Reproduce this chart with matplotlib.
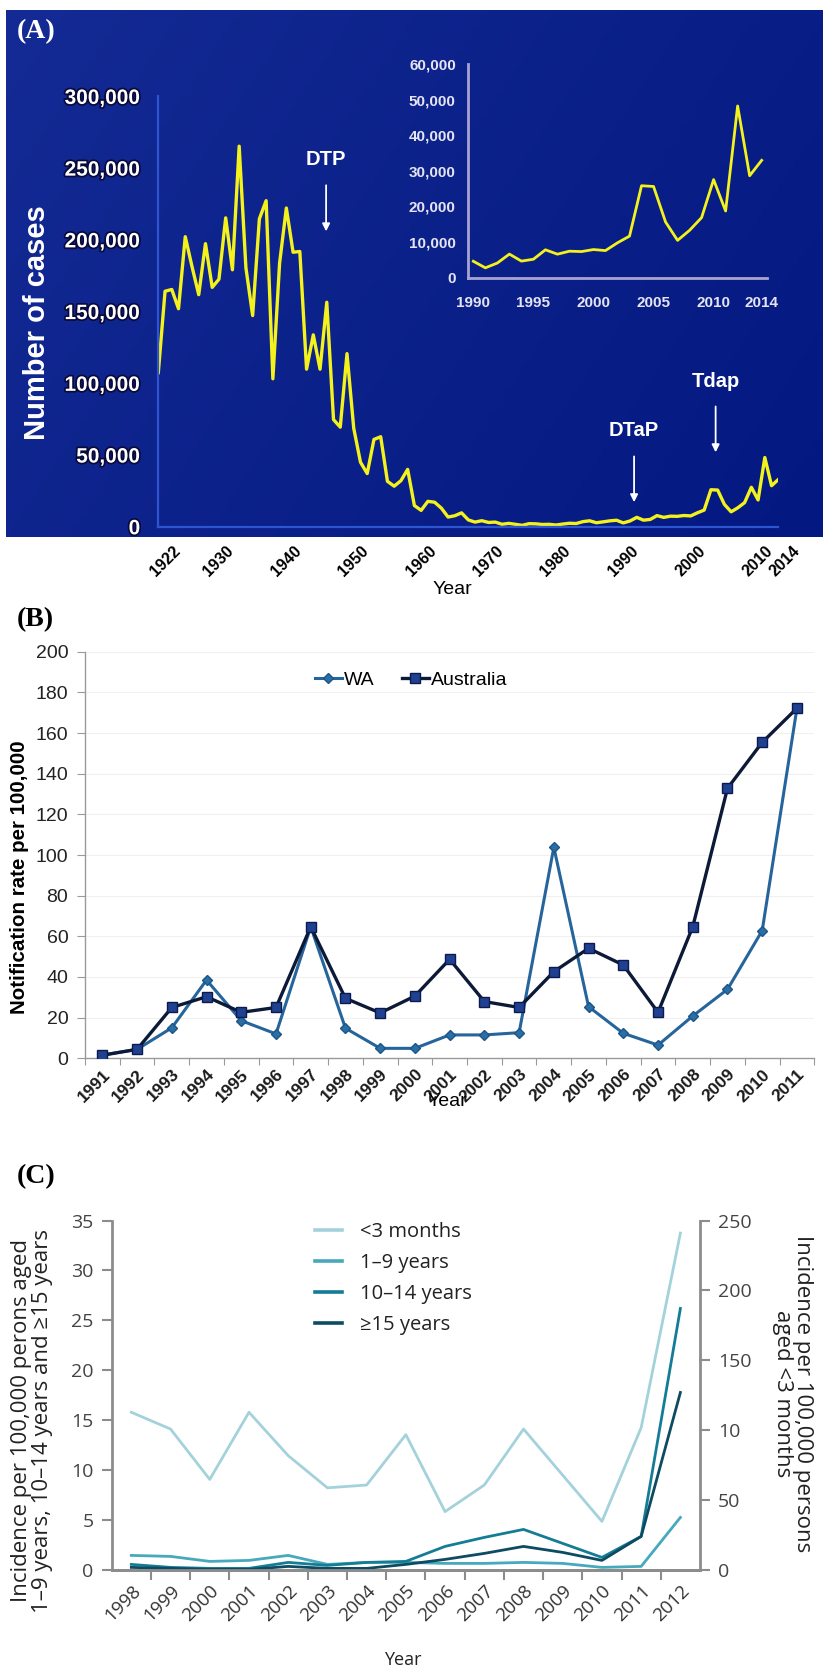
import numpy as np
import matplotlib.pyplot as plt
import matplotlib.patheffects as pe
import matplotlib.transforms as mtransforms
from matplotlib.lines import Line2D

# ---------- data ----------
# (A) reported cases, 1922-2014
years_a = list(range(1922, 2015))
cases_a = [107473, 164191, 165418, 152003, 202210, 181411, 161799, 197371, 166914, 172559,
           215343, 179135, 265269, 180518, 147237, 214652, 227319, 103188, 183866, 222202,
           191383, 191890, 109873, 133792, 109860, 156517, 74715, 69479, 120718, 68687,
           45030, 37129, 60886, 62786, 31732, 28295, 32148, 40005, 14809, 11468,
           17749, 17135, 13005, 6799, 7717, 9718, 4810, 3285, 4249, 3036,
           3287, 1759, 2402, 1738, 1010, 2177, 2063, 1623, 1730, 1248,
           1895, 2463, 2276, 3589, 4195, 2823, 3450, 4157, 4570, 2719,
           4083, 6586, 4617, 5137, 7796, 6564, 7405, 7298, 7867, 7580,
           9771, 11647, 25827, 25616, 15632, 10454, 13278, 16858, 27550, 18719,
           48277, 28639, 32971]
xticks_a = [1922, 1930, 1940, 1950, 1960, 1970, 1980, 1990, 2000, 2010, 2014]
yticks_a = [0, 50000, 100000, 150000, 200000, 250000, 300000]
inset_start = 1990
xticks_inset = [1990, 1995, 2000, 2005, 2010, 2014]
yticks_inset = [0, 10000, 20000, 30000, 40000, 50000, 60000]
vaccines = ["DTP", "DTaP", "Tdap"]

# (B) notification rate per 100,000
years_b = [str(y) for y in range(1991, 2012)]
wa = [1.6, 4.4, 15, 38.5, 18.5, 12, 64.7, 14.8, 4.9, 4.9, 11.5, 11.5, 12.6, 103.8,
      25.4, 12.3, 6.5, 20.8, 33.9, 62.8, 172.2]
aus = [1.5, 4.4, 25, 30.3, 22.6, 25, 64.7, 29.5, 22.3, 30.6, 48.7, 27.9, 25, 42.6,
       54.1, 45.9, 22.6, 64.7, 132.8, 155.4, 172.2]

# (C) incidence per 100,000
years_c = [str(y) for y in range(1998, 2013)]
under3m = [113, 101, 65, 113, 82, 59, 61, 97, 42, 61, 101, 68, 35, 102, 241]  # right axis
age1_9 = [1.5, 1.4, 0.9, 1.0, 1.5, 0.6, 0.8, 0.8, 0.7, 0.7, 0.8, 0.7, 0.3, 0.4, 5.3]
age10_14 = [0.6, 0.3, 0.2, 0.2, 0.8, 0.5, 0.8, 0.9, 2.4, 3.3, 4.1, 2.7, 1.3, 3.4, 26.2]
age15p = [0.3, 0.2, 0.1, 0.1, 0.4, 0.2, 0.2, 0.6, 1.1, 1.7, 2.4, 1.8, 1.0, 3.4, 17.8]
yticks_c_right = [0, 50, 100, 150, 200, 250]
ytick_labels_c_right = ["0", "50", "10", "150", "200", "250"]

# ---------- figure ----------
W, H = 823, 1670
fig = plt.figure(figsize=(W / 100, H / 100), dpi=100)
fig.patch.set_facecolor("white")


def px_axes(l, t, r, b, **kw):
    return fig.add_axes([l / W, 1 - b / H, (r - l) / W, (b - t) / H], **kw)


SANS = ["Liberation Sans", "DejaVu Sans"]
OPEN = ["Open Sans", "DejaVu Sans"]
SERIF = ["Liberation Serif", "DejaVu Serif"]

# ===== Panel A =====
bg = px_axes(6, 10, 823, 537.5)
bg.set_zorder(-5)
gx, gy = np.meshgrid(np.linspace(0, 1, 200), np.linspace(0, 1, 130))
d = np.clip(0.7 * gx + 0.3 * gy, 0, 1)[..., None]
c1 = np.array([20, 42, 148]) / 255
c2 = np.array([3, 24, 128]) / 255
bg.imshow(c1 * (1 - d) + c2 * d, aspect="auto", extent=(0, 1, 0, 1))
bg.axis("off")

axA = px_axes(158.3, 96.4, 778.3, 526.8)
axA.patch.set_alpha(0)
axA.plot(years_a, cases_a, color="#f4f21c", lw=2.4, solid_joinstyle="round")
axA.set_xlim(1922, 2014)
axA.set_ylim(0, 300000)
for s in ["top", "right"]:
    axA.spines[s].set_visible(False)
for s in ["left", "bottom"]:
    axA.spines[s].set_color("#2d55cf")
    axA.spines[s].set_linewidth(1.6)
axA.set_yticks(yticks_a)
axA.set_yticklabels([f"{v:,}" for v in yticks_a], color="white", fontweight="bold",
                    fontsize=15, family=SANS,
                    path_effects=[pe.withStroke(linewidth=2.5, foreground="#0a0a3a")])
axA.tick_params(axis="y", length=0, pad=13)
axA.set_xticks(xticks_a)
axA.set_xticklabels([str(v) for v in xticks_a], rotation=45, ha="right",
                    rotation_mode="anchor", fontsize=11.5, fontweight="bold", family=SANS)
axA.tick_params(axis="x", length=0, pad=12)
shift = mtransforms.ScaledTranslation(14 / 100, 0, fig.dpi_scale_trans)
for lab in axA.get_xticklabels():
    lab.set_transform(lab.get_transform() + shift)

arrow_kw = dict(arrowstyle="-|>", color="white", lw=1.3, mutation_scale=11)
vacc_pos = [(1946.9, 256000, 240000, 204000),
            (1992.6, 67400, 51000, 15200),
            (2004.7, 101500, 85800, 50000)]
for name, (xv, yt, y0, y1) in zip(vaccines, vacc_pos):
    axA.annotate("", xy=(xv, y1), xytext=(xv, y0), arrowprops=arrow_kw)
    axA.text(xv, yt, name, color="white", fontweight="bold", fontsize=14.5,
             family=SANS, ha="center", va="center")

fig.text(37 / W, 1 - 323 / H, "Number of cases", rotation=90, color="white",
         fontweight="bold", fontsize=21, family=SANS, ha="center", va="center")
fig.text(17 / W, 1 - 32 / H, "(A)", color="white", fontweight="bold", fontsize=20,
         family=SERIF, ha="left", va="center")
fig.text(452 / W, 1 - 589 / H, "Year", fontsize=14, family=SANS, ha="center", va="center")

# inset
axI = px_axes(468.3, 64.3, 766.7, 277.5)
axI.patch.set_alpha(0)
i0 = years_a.index(inset_start)
axI.plot(years_a[i0:], cases_a[i0:], color="#f4f21c", lw=2.0)
axI.set_xlim(1989.58, 2014.42)
axI.set_ylim(0, 60000)
for s in ["top", "right"]:
    axI.spines[s].set_visible(False)
for s in ["left", "bottom"]:
    axI.spines[s].set_color("#a9a4cf")
    axI.spines[s].set_linewidth(2)
axI.set_yticks(yticks_inset)
axI.set_yticklabels([f"{v:,}" for v in yticks_inset], fontsize=11, color="#e4e4f2",
                    family=SANS, fontweight="bold")
axI.set_xticks(xticks_inset)
axI.set_xticklabels([str(v) for v in xticks_inset], fontsize=11, color="#e4e4f2",
                    family=SANS, fontweight="bold")
axI.tick_params(axis="y", length=0, pad=9)
axI.tick_params(axis="x", length=0, pad=13)

# ===== Panel B =====
axB = px_axes(85, 651.7, 814.3, 1058.3)
xb = np.arange(len(years_b))
wa_style = dict(color="#26659b", lw=2.2, marker="D", markersize=5.5,
                markerfacecolor="#2a6ea6", markeredgecolor="#1d5587")
aus_style = dict(color="#0c1a38", lw=2.4, marker="s", markersize=7,
                 markerfacecolor="#1f4190", markeredgecolor="#0c1a50")
axB.plot(xb, wa, zorder=3, **wa_style)
axB.plot(xb, aus, zorder=4, **aus_style)
axB.set_xlim(-0.5, len(years_b) - 0.5)
axB.set_ylim(0, 200)
for s in ["top", "right"]:
    axB.spines[s].set_visible(False)
for s in ["left", "bottom"]:
    axB.spines[s].set_color("#9a9a9a")
    axB.spines[s].set_linewidth(1.0)
axB.set_yticks(range(0, 201, 20))
axB.tick_params(axis="y", direction="out", length=6, color="#9a9a9a", pad=6,
                labelsize=14, labelcolor="#222222")
for lab in axB.get_yticklabels():
    lab.set_family(SANS)
axB.yaxis.grid(True, color="#f0f0f0", lw=0.8)
axB.set_axisbelow(True)
axB.set_xticks(np.arange(-0.5, len(years_b), 1))
axB.set_xticklabels([])
axB.tick_params(axis="x", which="major", direction="out", length=5, color="#9a9a9a")
axB.set_xticks(xb, minor=True)
axB.set_xticklabels(years_b, minor=True, rotation=45, ha="right", rotation_mode="anchor",
                    fontsize=12.5, fontweight="bold", family=SANS, color="#1a1a1a")
axB.tick_params(axis="x", which="minor", length=0, pad=6)
hB = [Line2D([], [], **wa_style), Line2D([], [], **aus_style)]
axB.legend(hB, ["WA", "Australia"], loc="center", bbox_to_anchor=(0.447, 0.93), ncol=2,
           frameon=False, handlelength=1.4, handletextpad=0.1, columnspacing=1.4,
           prop={"family": SANS, "size": 14})
fig.text(20 / W, 1 - 877 / H, "Notification rate per 100,000", rotation=90,
         fontweight="bold", fontsize=14.8, family=SANS, ha="center", va="center")
fig.text(447 / W, 1 - 1102 / H, "Year", fontsize=14, family=SANS, ha="center", va="center")
fig.text(17 / W, 1 - 620 / H, "(B)", fontweight="bold", fontsize=20,
         family=SERIF, ha="left", va="center")

# ===== Panel C =====
axC = px_axes(111.7, 1220.5, 700, 1570.4)
axR = axC.twinx()
xc = np.arange(len(years_c))
col_c = ["#a3d2db", "#47a9bc", "#147d95", "#0c4b61"]
axR.plot(xc, under3m, color=col_c[0], lw=2.0)
axC.plot(xc, age1_9, color=col_c[1], lw=2.0)
axC.plot(xc, age10_14, color=col_c[2], lw=2.0)
axC.plot(xc, age15p, color=col_c[3], lw=2.0)
axC.set_zorder(axR.get_zorder() + 1)
axC.patch.set_visible(False)
axC.set_xlim(-0.5, len(years_c) - 0.5)
axC.set_ylim(0, 35)
axR.set_ylim(0, 250)
for a in (axC, axR):
    a.spines["top"].set_visible(False)
    for s in ["left", "right", "bottom"]:
        a.spines[s].set_color("#8c8c8c")
        a.spines[s].set_linewidth(2)
axC.spines["right"].set_visible(False)
axR.spines["left"].set_visible(False)
axC.set_yticks(range(0, 36, 5))
axC.tick_params(axis="y", direction="out", length=7, width=1.5, color="#8c8c8c", pad=6,
                labelsize=14, labelcolor="#444444")
axR.set_yticks(yticks_c_right)
axR.set_yticklabels(ytick_labels_c_right)
axR.tick_params(axis="y", direction="out", length=7, width=1.5, color="#8c8c8c", pad=6,
                labelsize=14, labelcolor="#444444")
for lab in axC.get_yticklabels() + axR.get_yticklabels():
    lab.set_family(OPEN)
axC.set_xticks(np.arange(0.5, len(years_c) - 1, 1))
axC.set_xticklabels([])
axC.tick_params(axis="x", which="major", direction="out", length=7, width=1.5,
                color="#8c8c8c")
axC.set_xticks(xc, minor=True)
axC.set_xticklabels(years_c, minor=True, rotation=45, ha="right", rotation_mode="anchor",
                    fontsize=13.5, family=OPEN, color="#333333")
axC.tick_params(axis="x", which="minor", length=0, pad=8)
hC = [Line2D([], [], color=c, lw=2.6) for c in col_c]
axC.legend(hC, ["<3 months", "1–9 years", "10–14 years", "≥15 years"],
           loc="upper left", bbox_to_anchor=(0.345, 0.995), frameon=False,
           borderpad=0, borderaxespad=0, handlelength=1.35, handletextpad=0.9,
           labelspacing=0.55, prop={"family": OPEN, "size": 14.5},
           labelcolor="#222222")
fig.text(31.7 / W, 1 - 1421 / H,
         "Incidence per 100,000 perons aged\n1–9 years, 10–14 years and ≥15 years",
         rotation=90, fontsize=16, family=OPEN, ha="center", va="center",
         multialignment="center", linespacing=1.0, color="#222222")
fig.text(792.5 / W, 1 - 1394 / H, "Incidence per 100,000 persons\naged <3 months",
         rotation=270, fontsize=16, family=OPEN, ha="center", va="center",
         multialignment="center", linespacing=1.0, color="#222222")
fig.text(403 / W, 1 - 1660 / H, "Year", fontsize=13, family=OPEN, ha="center",
         va="center", color="#222222")
fig.text(17 / W, 1 - 1177 / H, "(C)", fontweight="bold", fontsize=20,
         family=SERIF, ha="left", va="center")

fig.savefig("out.png", dpi=100)
